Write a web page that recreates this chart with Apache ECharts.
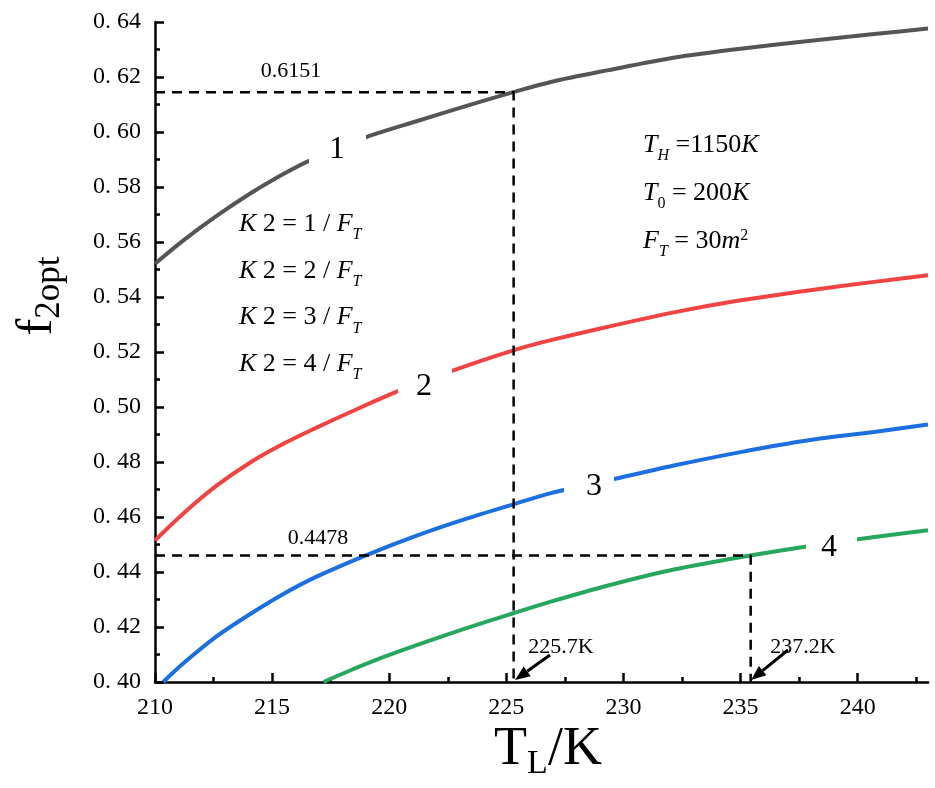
<!DOCTYPE html>
<html><head><meta charset="utf-8">
<script src="https://cdn.jsdelivr.net/npm/echarts@6/dist/echarts.min.js"></script>
<style>html,body{margin:0;padding:0;background:#fff}#c{width:935px;height:788px}</style>
</head><body><div id="c"></div>
<script>
// ---- data ----
const tL1 = [210, 211.2, 212.6, 214.1, 215.5, 216.6, 219.1, 221.2, 223.3, 225.3, 226.9, 229.3, 232.2, 235.0, 237.9, 240.7, 243.0];
const f1  = [0.5521, 0.5605, 0.5693, 0.5778, 0.5848, 0.5896, 0.5984, 0.6040, 0.6095, 0.6145, 0.6182, 0.6224, 0.6271, 0.6303, 0.6331, 0.6356, 0.6376];
const tL2 = [210, 211.2, 212.6, 214.1, 215.5, 216.9, 218.3, 220.3, 222.8, 225.3, 226.9, 229.3, 232.2, 235.0, 237.9, 240.7, 243.0];
const f2  = [0.4515, 0.4612, 0.4712, 0.4800, 0.4867, 0.4925, 0.4980, 0.5055, 0.5135, 0.5206, 0.5243, 0.5291, 0.5345, 0.5388, 0.5424, 0.5455, 0.5479];
const tL3 = [210.35, 211.2, 212.6, 214.1, 215.5, 216.9, 218.9, 221.2, 223.3, 225.3, 226.9, 229.7, 232.2, 235.0, 237.9, 240.7, 243.0];
const f3  = [0.4000, 0.4067, 0.4164, 0.4249, 0.4321, 0.4383, 0.4457, 0.4533, 0.4594, 0.4646, 0.4687, 0.4740, 0.4788, 0.4836, 0.4879, 0.4909, 0.4936];
const tL4 = [217.19, 218.3, 219.8, 221.2, 223.3, 225.3, 226.9, 229.3, 232.2, 235.4, 237.9, 240.0, 243.0];
const f4  = [0.4000, 0.4041, 0.4092, 0.4135, 0.4196, 0.4250, 0.4292, 0.4350, 0.4410, 0.4460, 0.4494, 0.4519, 0.4552];
const curveNames = ['1', '2', '3', '4'];
const curveColors = ['#555555', '#f24343', '#1c6fe0', '#27a65e'];
const guideT = [225.31, 235.43];
const guideF = [0.6145, 0.446];
const guideLabelF = ['0.6151', '0.4478'];
const guideLabelT = ['225.7K', '237.2K'];
const xTicks = [210, 215, 220, 225, 230, 235, 240];
const xMinorTicks = [212.5, 217.5, 222.5, 227.5, 232.5, 237.5, 242.5];
const k2Lines = ['1', '2', '3', '4'];

const SERIF = 'Liberation Serif';
const zip = (a, b) => a.map((v, i) => [v, b[i]]);

function rich(fs) {
  const sub = Math.round(fs * 0.62);
  return {
    m: {fontFamily: SERIF, fontSize: fs, lineHeight: fs + 6, verticalAlign: 'top', fill: '#000'},
    i: {fontFamily: SERIF, fontStyle: 'italic', fontSize: fs, lineHeight: fs + 6, verticalAlign: 'top', fill: '#000'},
    s: {fontFamily: SERIF, fontStyle: 'italic', fontSize: sub, lineHeight: sub, padding: [Math.round(fs * 0.75), 0, 0, 0], verticalAlign: 'bottom', fill: '#000'},
    su: {fontFamily: SERIF, fontSize: sub, lineHeight: sub, padding: [Math.round(fs * 0.75), 0, 0, 0], verticalAlign: 'bottom', fill: '#000'},
    p: {fontFamily: SERIF, fontSize: sub, lineHeight: sub, verticalAlign: 'top', fill: '#000'}
  };
}
function mtext(x, y, text, fs, align, extra) {
  return Object.assign({type: 'text', x: x, y: y, z: 60,
    style: {text: text, rich: rich(fs), align: align || 'left', textAlign: align || 'left', verticalAlign: 'middle', textVerticalAlign: 'middle', fill: '#000'}}, extra || {});
}
function ptext(x, y, text, fs) {
  return {type: 'text', x: x, y: y, z: 60,
    style: {text: text, fontFamily: SERIF, fontSize: fs, fill: '#000', align: 'center', textAlign: 'center', verticalAlign: 'middle', textVerticalAlign: 'middle'}};
}
function arrow(x1, y1, x2, y2) {
  const dx = x2 - x1, dy = y2 - y1, L = Math.hypot(dx, dy);
  const ux = dx / L, uy = dy / L, hl = 15, hw = 6;
  const bx = x2 - ux * hl, by = y2 - uy * hl;
  return [
    {type: 'line', z: 60, shape: {x1: x1, y1: y1, x2: bx, y2: by}, style: {stroke: '#000', lineWidth: 3}},
    {type: 'polygon', z: 60, shape: {points: [[x2, y2], [bx - uy * hw, by + ux * hw], [bx + uy * hw, by - ux * hw]]}, style: {fill: '#000'}}
  ];
}
function gapLabel(cx, cy, txt, rx0, ry0, rx1, ry1) {
  return [
    {type: 'rect', z: 55, shape: {x: rx0, y: ry0, width: rx1 - rx0, height: ry1 - ry0}, style: {fill: '#fff'}},
    ptext(cx, cy, txt, 32)
  ];
}

const axisLineStyle = {color: '#000', width: 2.5};
const lineSeries = [zip(tL1, f1), zip(tL2, f2), zip(tL3, f3), zip(tL4, f4)].map((d, i) => ({
  name: curveNames[i], type: 'line', data: d, showSymbol: false, smooth: 0.3,
  lineStyle: {color: curveColors[i], width: 4}, z: 3, silent: true
}));
const guideSeries = [0, 1].map(i => ({
  type: 'line', showSymbol: false, silent: true, z: 4,
  data: [[210, guideF[i]], [guideT[i], guideF[i]], [guideT[i], 0.40]],
  lineStyle: {color: '#000', width: 2.5, type: [10, 7]}
}));

const graphics = [].concat(
  gapLabel(337, 150, curveNames[0], 309, 130, 366, 168),
  gapLabel(424, 387, curveNames[1], 398, 362, 452, 398),
  gapLabel(594, 487, curveNames[2], 564, 467, 614, 503),
  gapLabel(829, 548, curveNames[3], 806, 530, 857, 564),
  k2Lines.map((k, i) => mtext(239, 227 + i * 46.7, '{i|K}{m| 2 = ' + k + ' / }{i|F}{s|T}', 26)),
  [mtext(643, 148, '{i|T}{s|H}{m| =1150}{i|K}', 26),
   mtext(643, 196, '{i|T}{su|0}{m| = 200}{i|K}', 26),
   mtext(643, 244, '{i|F}{s|T}{m| = 30}{i|m}{p|2}', 26),
   ptext(291, 71, guideLabelF[0], 22),
   ptext(318, 538, guideLabelF[1], 22),
   ptext(561, 647, guideLabelT[0], 22),
   ptext(803, 647, guideLabelT[1], 22),
   {type: 'text', x: 548, y: 752, z: 60, style: {text: '{m|T}{s|L}{m|/K}', align: 'center', textAlign: 'center', verticalAlign: 'middle', textVerticalAlign: 'middle',
     rich: {m: {fontFamily: SERIF, fontSize: 54, lineHeight: 58, verticalAlign: 'top', fill: '#000'},
            s: {fontFamily: SERIF, fontSize: 34, lineHeight: 34, padding: [38, 0, 0, 0], verticalAlign: 'bottom', fill: '#000'}}}},
   {type: 'text', x: 40, y: 296, rotation: Math.PI / 2, z: 60, style: {text: '{m|f}{s|2opt}', align: 'center', textAlign: 'center', verticalAlign: 'middle', textVerticalAlign: 'middle',
     rich: {m: {fontFamily: SERIF, fontSize: 50, lineHeight: 54, verticalAlign: 'top', fill: '#000'},
            s: {fontFamily: SERIF, fontSize: 35, lineHeight: 35, padding: [30, 0, 0, 0], verticalAlign: 'bottom', fill: '#000'}}}}
  ],
  arrow(550, 655, 515, 680),
  arrow(788, 650, 751, 680)
);

const chart = echarts.init(document.getElementById('c'), null, {renderer: 'canvas'});
chart.setOption({
  animation: false,
  backgroundColor: '#fff',
  grid: {left: 155, right: 7, top: 22, bottom: 106, containLabel: false},
  xAxis: [{
    type: 'value', min: 210, max: 243,
    axisLine: {show: true, lineStyle: axisLineStyle, onZero: false},
    axisTick: {show: true, inside: true, length: 9, lineStyle: {color: '#000', width: 2.5}, customValues: xTicks},
    axisLabel: {customValues: xTicks, color: '#000', fontFamily: SERIF, fontSize: 24, margin: 14},
    splitLine: {show: false}
  }, {
    type: 'value', min: 210, max: 243, position: 'bottom',
    axisLine: {show: false},
    axisTick: {show: true, inside: true, length: 5, lineStyle: {color: '#000', width: 2.5}, customValues: xMinorTicks},
    axisLabel: {show: false},
    splitLine: {show: false}
  }],
  yAxis: {
    type: 'value', min: 0.40, max: 0.64, interval: 0.02,
    axisLine: {show: true, lineStyle: axisLineStyle, onZero: false},
    axisTick: {show: true, inside: true, length: 9, lineStyle: {color: '#000', width: 2.5}},
    minorTick: {show: true, splitNumber: 2, length: 5, lineStyle: {color: '#000', width: 2.5}},
    axisLabel: {color: '#000', fontFamily: SERIF, fontSize: 24, margin: 14,
      formatter: v => v.toFixed(2).replace('.', '. ')},
    splitLine: {show: false}
  },
  series: lineSeries.concat(guideSeries),
  graphic: {elements: graphics}
});
</script></body></html>
